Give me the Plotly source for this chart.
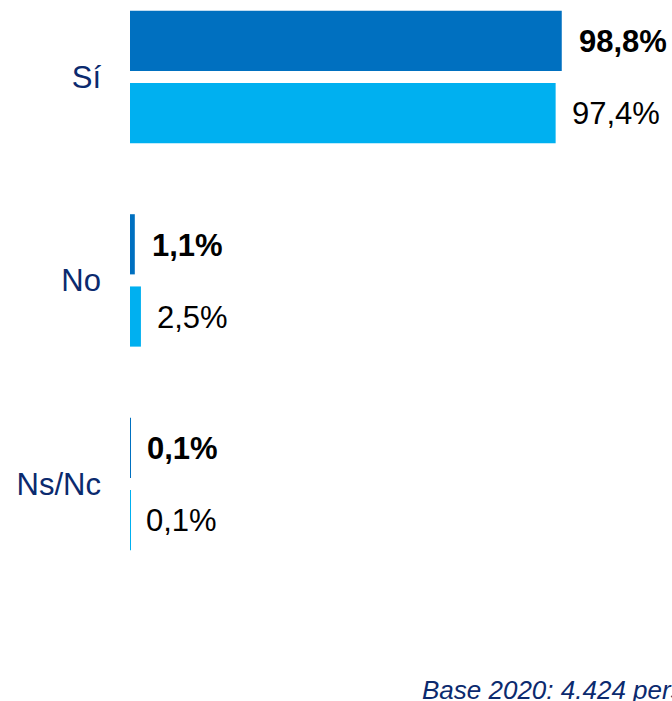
import plotly.graph_objects as go

categories = ["Sí", "No", "Ns/Nc"]
values_2020 = [98.8, 1.1, 0.1]
values_prev = [97.4, 2.5, 0.1]
labels_2020 = ["98,8%", "1,1%", "0,1%"]
labels_prev = ["97,4%", "2,5%", "0,1%"]
footer = "Base 2020: 4.424 personas"

dark = "#0070C0"
light = "#00B0F0"
navy = "#0B2A6E"
font_family = "Liberation Sans, Arial, sans-serif"

fig = go.Figure()
fig.add_trace(go.Bar(y=categories, x=values_2020, orientation="h",
                     marker=dict(color=dark, line=dict(width=0)), name="2020"))
fig.add_trace(go.Bar(y=categories, x=values_prev, orientation="h",
                     marker=dict(color=light, line=dict(width=0)), name="prev"))

for cat, v, t in zip(categories, values_2020, labels_2020):
    fig.add_annotation(x=v, y=cat, text="<b>" + t + "</b>", showarrow=False,
                       xanchor="left", xshift=15, yshift=35,
                       font=dict(size=31, color="black", family=font_family))
for cat, v, t in zip(categories, values_prev, labels_prev):
    fig.add_annotation(x=v, y=cat, text=t, showarrow=False,
                       xanchor="left", xshift=14, yshift=-37,
                       font=dict(size=31, color="black", family=font_family))

fig.add_annotation(x=(420 - 130) / 437, y=(640 - 690) / 640, xref="paper", yref="paper",
                   text="<i>" + footer + "</i>", showarrow=False,
                   xanchor="left", yanchor="middle",
                   font=dict(size=26, color=navy, family=font_family))

fig.update_layout(
    width=672, height=701,
    template="none",
    margin=dict(l=130, r=105, t=0, b=61, autoexpand=False),
    barmode="group", bargap=0.29, bargroupgap=0.167,
    plot_bgcolor="white", paper_bgcolor="white",
    showlegend=False,
    font=dict(family=font_family),
    xaxis=dict(range=[0, 100], visible=False, automargin=False),
    yaxis=dict(range=[2.767, -0.378], showgrid=False, zeroline=False, showline=False,
               ticks="", ticklabelstandoff=28, automargin=False,
               tickfont=dict(size=31, color=navy, family=font_family)),
)
fig.write_html("out.html", config={"displayModeBar": False},
               post_script="document.body.style.margin='0';document.body.style.overflow='hidden';")
